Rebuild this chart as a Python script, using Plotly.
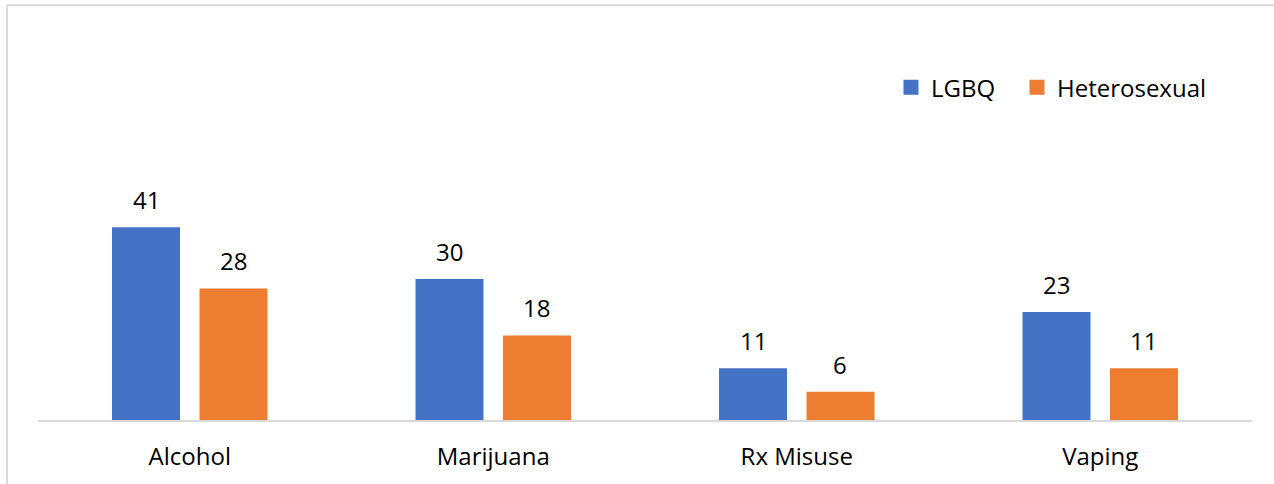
import plotly.graph_objects as go

categories = ["Alcohol", "Marijuana", "Rx Misuse", "Vaping"]
lgbq = [41, 30, 11, 23]
hetero = [28, 18, 6, 11]
series_names = ["LGBQ", "Heterosexual"]
colors = ["#4472C4", "#ED7D31"]

W, H = 1274, 484
ML, MR, MT, MB = 38, 22, 44, 62
plot_w = W - ML - MR
plot_h = H - MT - MB
FONT = "Open Sans"
FS = 24


def px_x(p):
    return (p - ML) / plot_w


def px_y(p):
    return (H - MB - p) / plot_h


fig = go.Figure()
legend_ids = ["legend", "legend2"]
legend_left = [891, 1017]
for name, vals, col, lid in zip(series_names, [lgbq, hetero], colors, legend_ids):
    fig.add_trace(go.Bar(name=name, x=categories, y=vals, marker_color=col,
                         marker_line_width=0, showlegend=False))
    # square legend swatch for the series
    fig.add_trace(go.Scatter(name=name, x=[None], y=[None], mode="markers",
                             marker=dict(symbol="square", size=15, color=col),
                             legend=lid, showlegend=True))

# value labels above each bar
slot = plot_w / len(categories) * (1 - 0.4234) / 2
for i, vals in enumerate([lgbq, hetero]):
    off = (i - 0.5) * slot
    for c, v in zip(categories, vals):
        fig.add_annotation(x=c, y=v, text=str(v), showarrow=False,
                           xshift=off, yshift=9, yanchor="bottom",
                           font=dict(family=FONT, size=FS, color="#000000"))

# light frame around the chart
fig.add_shape(type="line", xref="paper", yref="paper",
              x0=px_x(7), x1=px_x(1290), y0=px_y(5), y1=px_y(5),
              line=dict(color="#D9D9D9", width=2))
fig.add_shape(type="line", xref="paper", yref="paper",
              x0=px_x(7), x1=px_x(7), y0=px_y(5), y1=px_y(500),
              line=dict(color="#D9D9D9", width=2))

legend_style = dict(orientation="h", xanchor="left", y=px_y(88), yanchor="middle",
                    font=dict(family=FONT, size=FS, color="#000000"),
                    bgcolor="rgba(0,0,0,0)")

fig.update_layout(
    width=W, height=H,
    margin=dict(l=ML, r=MR, t=MT, b=MB),
    paper_bgcolor="white", plot_bgcolor="white",
    barmode="group", bargap=0.4234, bargroupgap=0.223,
    font=dict(family=FONT, size=FS, color="#000000"),
    legend=dict(x=px_x(legend_left[0]), **legend_style),
    legend2=dict(x=px_x(legend_left[1]), **legend_style),
    xaxis=dict(showline=True, linecolor="#D9D9D9", linewidth=2,
               ticks="outside", ticklen=14, tickcolor="rgba(0,0,0,0)",
               showgrid=False, tickfont=dict(family=FONT, size=FS, color="#000000")),
    yaxis=dict(range=[0, 80], visible=False, showgrid=False),
)

fig.write_html("out.html")
